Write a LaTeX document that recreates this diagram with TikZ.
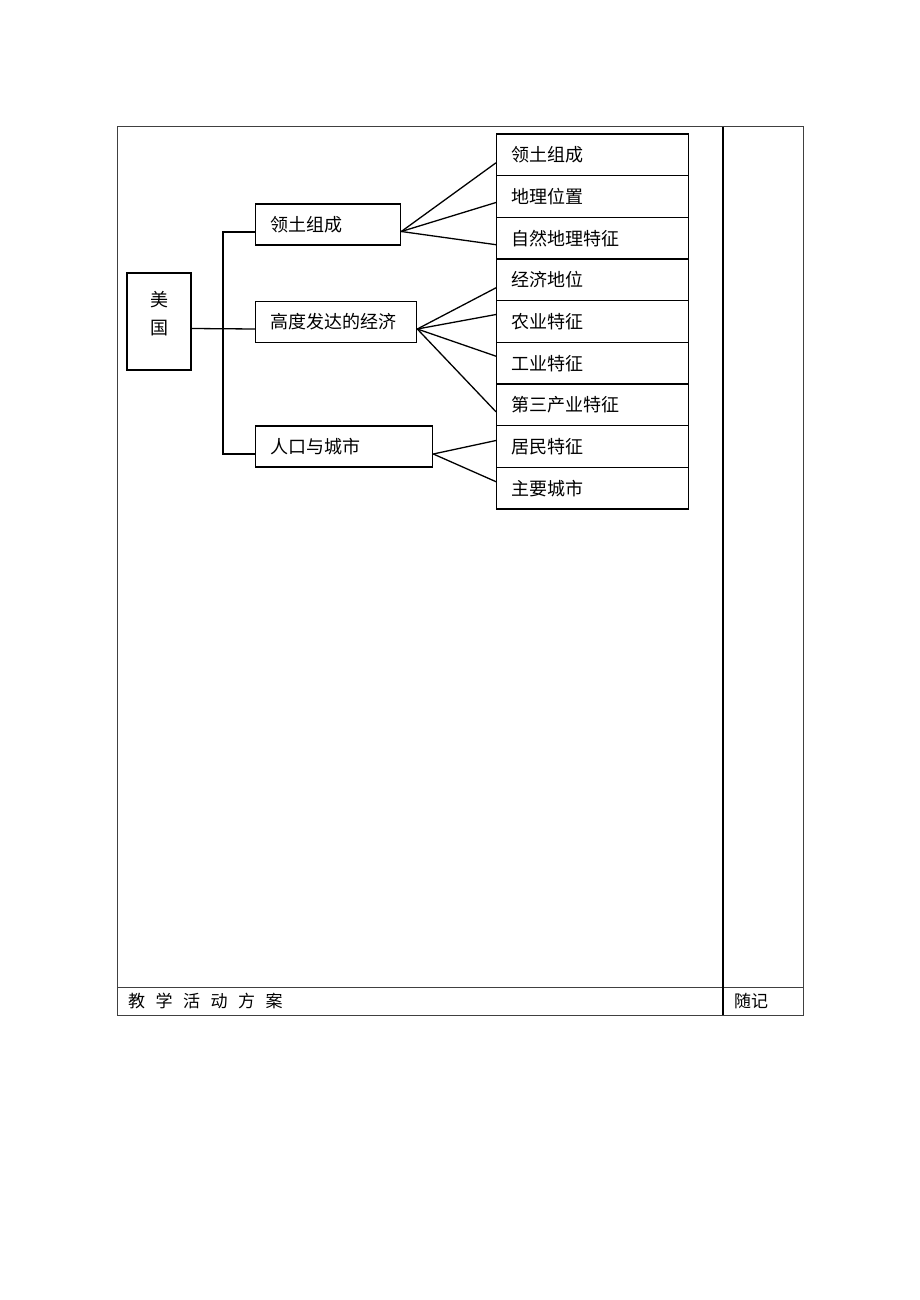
\documentclass[tikz,border=0pt]{standalone}
\usepackage{fontspec}
\setmainfont{Noto Sans CJK SC}
\begin{document}
\begin{tikzpicture}[x=1pt, y=-1pt]
\tikzstyle{frame} = [draw=black!75, line width=1pt]
\tikzstyle{e} = [draw=black, line width=1.3pt]
\tikzstyle{box} = [draw=black, line width=1.3pt, inner sep=0pt, font=\fontsize{18}{28}\selectfont]
\tikzstyle{mid} = [box, anchor=west, minimum height=41pt, inner xsep=15pt, align=left]
\tikzstyle{item} = [box, anchor=west, minimum height=41.67pt, text width=162pt, inner xsep=15pt, align=left]
\tikzstyle{cell} = [anchor=west, inner sep=0pt, font=\fontsize{17}{20}\selectfont]

\useasboundingbox (0,0) rectangle (920,1300);

% table frame
\draw[frame] (117,127) rectangle (803,1015);
\draw[frame] (117,987) -- (803,987);
\draw[e] (723,127) -- (723,1015);

\node[cell] (plan) at (128,1001) {教\hspace{10.5pt}学\hspace{10.5pt}活\hspace{10.5pt}动\hspace{10.5pt}方\hspace{10.5pt}案};
\node[cell] (note) at (734,1001) {随记};

% tree
\node[box, minimum width=64pt, minimum height=97pt,
  label={[align=center, yshift=8pt, font=\fontsize{18}{28}\selectfont]center:美\\国}] (us) at (159,321.5) {};

\node[mid, text width=115pt] (m1) at (255,224.5) {领土组成};
\node[mid, text width=131pt] (m2) at (255,322) {高度发达的经济};
\node[mid, text width=147pt] (m3) at (255,446.5) {人口与城市};

\node[item] (r1) at (496,154.8) {领土组成};
\node[item] (r2) at (496,196.5) {地理位置};
\node[item] (r3) at (496,238.2) {自然地理特征};
\node[item] (r4) at (496,279.8) {经济地位};
\node[item] (r5) at (496,321.5) {农业特征};
\node[item] (r6) at (496,363.2) {工业特征};
\node[item] (r7) at (496,404.8) {第三产业特征};
\node[item] (r8) at (496,446.5) {居民特征};
\node[item] (r9) at (496,488.2) {主要城市};

\draw[e] ([yshift=-7pt]us.east) -- ([yshift=-7pt]m2.west);
\draw[e] ([yshift=-7.5pt]m1.west) -| ([xshift=-32pt, yshift=-7.5pt]m3.west) -- ([yshift=-7.5pt]m3.west);

\draw[e] ([yshift=-7pt]m1.east) -- ([yshift=-8pt]r1.west);
\draw[e] ([yshift=-7pt]m1.east) -- ([yshift=-6pt]r2.west);
\draw[e] ([yshift=-7pt]m1.east) -- ([yshift=-6.5pt]r3.west);

\draw[e] ([yshift=-7pt]m2.east) -- ([yshift=-8pt]r4.west);
\draw[e] ([yshift=-7pt]m2.east) -- ([yshift=7pt]r5.west);
\draw[e] ([yshift=-7pt]m2.east) -- ([yshift=7pt]r6.west);
\draw[e] ([yshift=-7pt]m2.east) -- ([yshift=-7pt]r7.west);

\draw[e] ([yshift=-7.5pt]m3.east) -- ([yshift=6pt]r8.west);
\draw[e] ([yshift=-7.5pt]m3.east) -- ([yshift=6.5pt]r9.west);
\end{tikzpicture}
\end{document}
